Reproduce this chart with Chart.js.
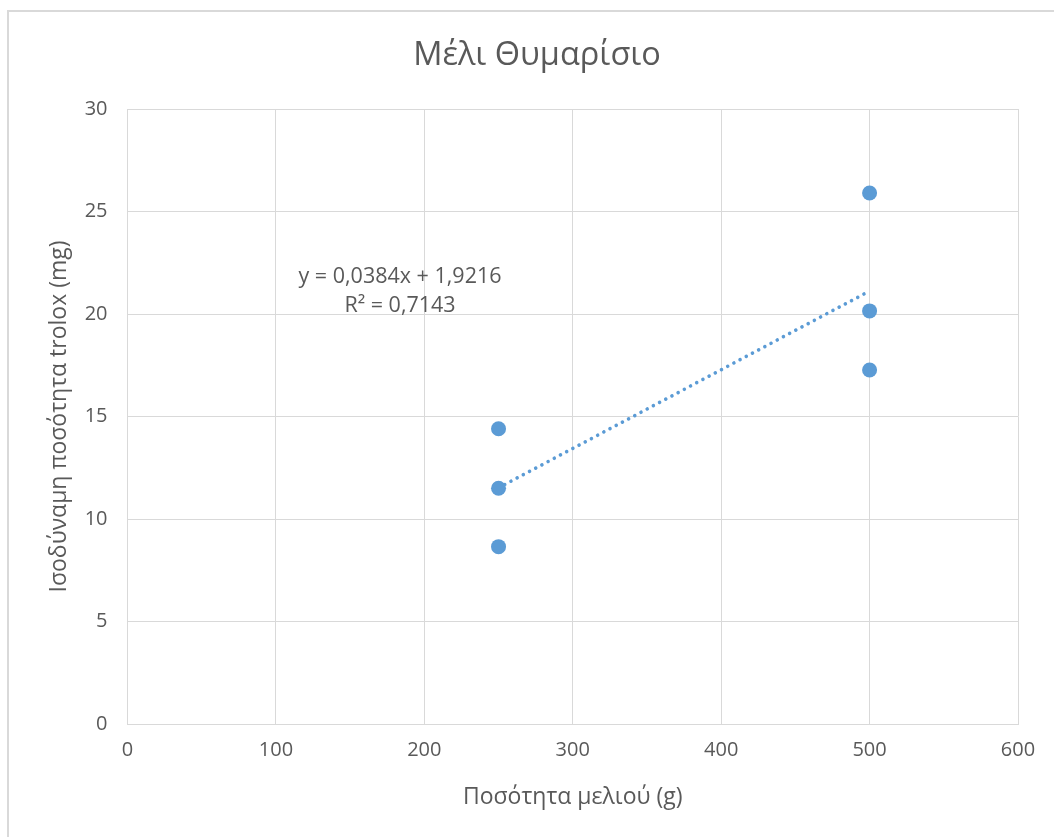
<!DOCTYPE html>
<html>
<head>
<meta charset="utf-8">
<script src="https://cdn.jsdelivr.net/npm/chart.js@4"></script>
<style>
  html, body { margin: 0; padding: 0; background: #fff; overflow: hidden; }
  #wrap { position: relative; width: 1054px; height: 837px; }
  #frame { position: absolute; left: 7px; top: 10px; width: 1100px; height: 900px; border: 2px solid #d9d9d9; box-sizing: border-box; pointer-events: none; }
  canvas { position: absolute; left: 0; top: 0; }
</style>
</head>
<body>
<div id="wrap">
  <canvas id="c" width="1054" height="837"></canvas>
  <div id="frame"></div>
</div>
<script>
const chartTitle = "Μέλι Θυμαρίσιο";
const xAxisTitle = "Ποσότητα μελιού (g)";
const yAxisTitle = "Ισοδύναμη ποσότητα trolox (mg)";
const xValues = [250, 250, 250, 500, 500, 500];
const yValues = [14.4, 11.5, 8.65, 25.9, 20.15, 17.27];
const trendSlope = 0.0384;
const trendIntercept = 1.9216;
const trendRange = [250, 500];
const equationLines = ["y = 0,0384x + 1,9216", "R² = 0,7143"];
const xTicks = [0, 100, 200, 300, 400, 500, 600];
const yTicks = [0, 5, 10, 15, 20, 25, 30];

const FONT = "'Open Sans', 'DejaVu Sans', sans-serif";
const TXT = "#595959";
const GRID = "#d9d9d9";
const BLUE = "#5b9bd5";

const points = xValues.map((x, i) => ({ x: x, y: yValues[i] }));
const trend = trendRange.map(x => ({ x: x, y: trendSlope * x + trendIntercept }));

const overlay = {
  id: 'overlay',
  afterDraw(chart) {
    const ctx = chart.ctx;
    ctx.save();
    ctx.fillStyle = TXT;
    ctx.textAlign = 'center';
    ctx.textBaseline = 'middle';
    ctx.font = "32.5px " + FONT;
    ctx.fillText(chartTitle, 537, 56);
    ctx.font = "21.5px " + FONT;
    ctx.fillText(equationLines[0], 400, 277);
    ctx.fillText(equationLines[1], 400, 306);
    ctx.restore();
  }
};

new Chart(document.getElementById('c'), {
  type: 'scatter',
  data: {
    datasets: [
      {
        label: 'data',
        data: points,
        backgroundColor: BLUE,
        borderColor: BLUE,
        pointRadius: 7.5,
        pointHoverRadius: 7.5,
        borderWidth: 0
      },
      {
        label: 'trend',
        type: 'line',
        data: trend,
        borderColor: BLUE,
        borderWidth: 3.6,
        borderDash: [0.01, 7],
        borderCapStyle: 'round',
        pointRadius: 0,
        fill: false
      }
    ]
  },
  options: {
    responsive: false,
    animation: false,
    events: [],
    layout: { padding: { top: 109, right: 36, bottom: 0, left: 0 } },
    plugins: {
      legend: { display: false },
      title: { display: false },
      tooltip: { enabled: false }
    },
    scales: {
      x: {
        type: 'linear',
        min: 0, max: 600,
        afterBuildTicks: s => { s.ticks = xTicks.map(v => ({ value: v })); },
        afterFit: s => { s.height = 113; },
        grid: { color: GRID, lineWidth: 1, drawTicks: false },
        border: { color: GRID, width: 1 },
        ticks: { color: TXT, font: { family: FONT, size: 20 }, padding: 14, maxRotation: 0 },
        title: { display: true, text: xAxisTitle, color: TXT, font: { family: FONT, size: 23 }, padding: { top: 0, bottom: 26 } }
      },
      y: {
        type: 'linear',
        min: 0, max: 30,
        afterBuildTicks: s => { s.ticks = yTicks.map(v => ({ value: v })); },
        afterFit: s => { s.width = 127.5; },
        grid: { color: GRID, lineWidth: 1, drawTicks: false },
        border: { color: GRID, width: 1 },
        ticks: { color: TXT, font: { family: FONT, size: 20 }, padding: 20 },
        title: { display: true, text: yAxisTitle, color: TXT, font: { family: FONT, size: 23 }, padding: { top: 46, bottom: 0 } }
      }
    }
  },
  plugins: [overlay]
});
</script>
</body>
</html>
